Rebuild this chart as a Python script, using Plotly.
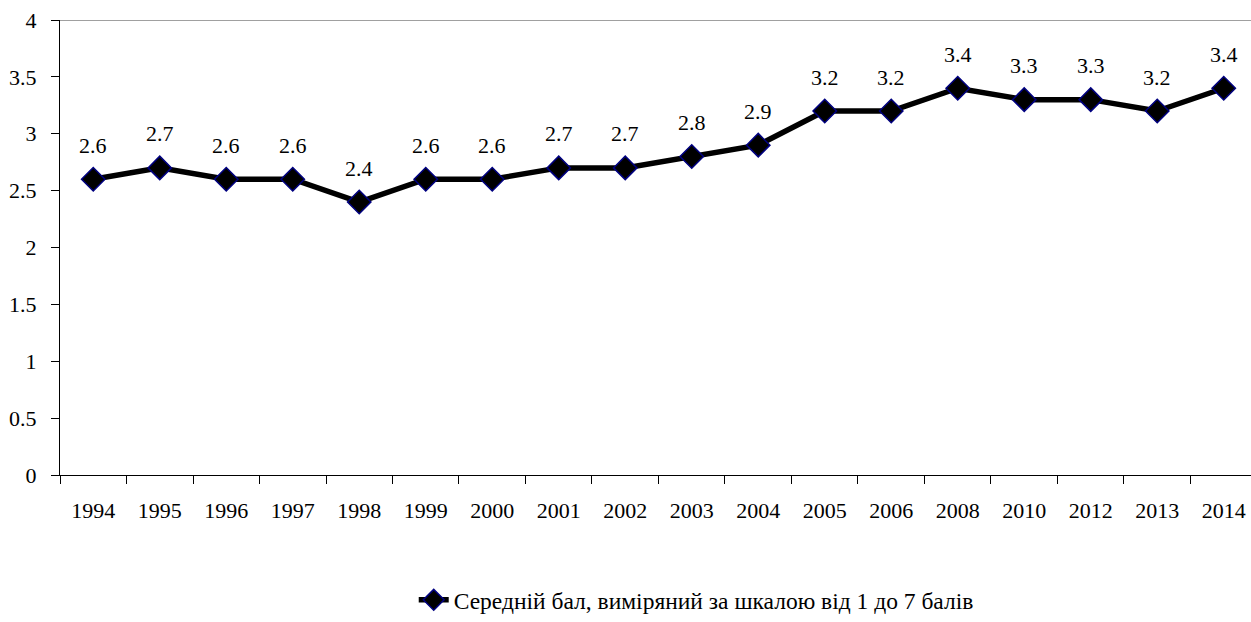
import plotly.graph_objects as go

years = ["1994", "1995", "1996", "1997", "1998", "1999", "2000", "2001", "2002",
         "2003", "2004", "2005", "2006", "2008", "2010", "2012", "2013", "2014"]
scores = [2.6, 2.7, 2.6, 2.6, 2.4, 2.6, 2.6, 2.7, 2.7,
          2.8, 2.9, 3.2, 3.2, 3.4, 3.3, 3.3, 3.2, 3.4]
series_name = "Середній бал, виміряний за шкалою від 1 до 7 балів"
y_ticks = [0, 0.5, 1, 1.5, 2, 2.5, 3, 3.5, 4]

FONT = "Liberation Serif, Times New Roman, serif"
FS = 22

fig = go.Figure()
fig.add_trace(go.Scatter(
    x=years, y=scores, mode="lines+markers", name=series_name,
    line=dict(color="black", width=5.5),
    marker=dict(symbol="diamond", size=18, color="black",
                line=dict(color="#000080", width=1.5)),
    cliponaxis=False,
))

# data labels (category axis: annotation x uses category index)
for i, v in enumerate(scores):
    fig.add_annotation(x=i, y=v, xref="x", yref="y", text=f"{v:.1f}", showarrow=False,
                       yshift=34, font=dict(family=FONT, size=FS, color="black"))

fig.add_shape(type="line", xref="paper", x0=0, x1=1, yref="y", y0=4, y1=4,
              line=dict(color="#808080", width=1.5))

fig.update_layout(
    width=1251, height=622,
    margin=dict(l=60, r=0, t=20, b=144),
    paper_bgcolor="white", plot_bgcolor="white",
    font=dict(family=FONT, size=FS, color="black"),
    showlegend=True,
    legend=dict(orientation="h", x=0.297, xanchor="left", y=-0.275, yanchor="middle",
                font=dict(family=FONT, size=23.5, color="black"),
                bgcolor="rgba(0,0,0,0)"),
    xaxis=dict(type="category", range=[-0.5, 17.41], tickson="boundaries",
               ticks="outside", ticklen=8, tickcolor="black", tickwidth=1,
               showline=True, linecolor="black", linewidth=1, showgrid=False,
               ticklabelstandoff=16, zeroline=False, automargin=False),
    yaxis=dict(range=[0, 4], tickvals=y_ticks, ticktext=[f"{t:g}" for t in y_ticks],
               ticks="outside", ticklen=8, tickcolor="black", tickwidth=1,
               showline=True, linecolor="black", linewidth=1, showgrid=False,
               zeroline=False, ticklabelstandoff=10, automargin=False),
)

fig.write_html("out.html", config={"displayModeBar": False},
               post_script="document.body.style.margin='0';document.body.style.padding='0';")
